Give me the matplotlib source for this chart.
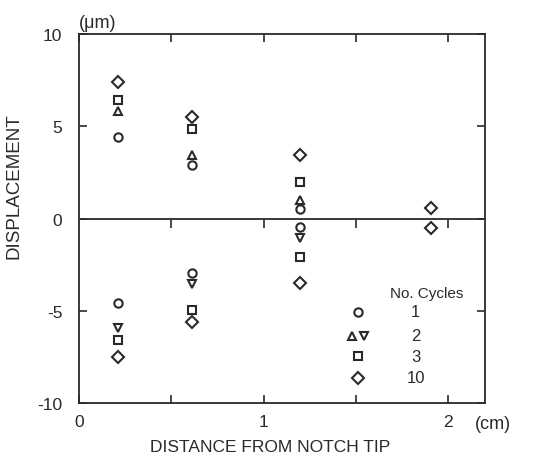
"""
plot.py - crack-tip displacement vs. distance from notch tip
"""
import matplotlib
matplotlib.use('Agg')
import matplotlib.pyplot as plt
import numpy as np

# column positions along the specimen (cm)
x_cols = [0.21, 0.61, 1.20]
x_far = [1.91]

# displacement (um), upper / lower crack face
c1_up = [4.42, 2.88, 0.49]
c1_lo = [-4.56, -2.97, -0.45]
c2_up = [5.85, 3.46, 0.99]
c2_lo = [-5.95, -3.55, -1.04]
c3_up = [6.45, 4.83, 1.98]
c3_lo = [-6.58, -4.95, -2.07]
c10_up = [7.42, 5.50, 3.42, 0.58]
c10_lo = [-7.53, -5.62, -3.51, -0.54]

legend_title = 'No. Cycles'
legend_labels = ['1', '2', '3', '10']

INK = '#2a2a2a'
plt.rcParams['font.family'] = ['Liberation Sans', 'DejaVu Sans']
plt.rcParams['font.size'] = 12.5

fig = plt.figure(figsize=(5.38, 4.60), dpi=100)
ax = fig.add_axes([0.1468, 0.1217, 0.7547, 0.8022])

mk = dict(linestyle='none', markerfacecolor='none', markeredgecolor=INK,
          markeredgewidth=1.5, markersize=6, clip_on=False)

x10 = x_cols + x_far
ax.plot(x_cols, c1_up, 'o', **mk)
ax.plot(x_cols, c1_lo, 'o', **mk)
ax.plot(x_cols, c2_up, '^', **mk)
ax.plot(x_cols, c2_lo, 'v', **mk)
ax.plot(x_cols, c3_up, 's', **mk)
ax.plot(x_cols, c3_lo, 's', **mk)
ax.plot(x10, c10_up, 'D', **mk)
ax.plot(x10, c10_lo, 'D', **mk)

# zero line with downward ticks
ax.axhline(0, color=INK, linewidth=1.3)
xt = np.arange(0.5, 2.01, 0.5)
ax.vlines(xt, 0, -0.5, color=INK, linewidth=1.2)

ax.set_xlim(0, 2.2)
ax.set_ylim(-10, 10)
ax.set_xticks(np.arange(0, 2.01, 0.5))
ax.set_xticklabels(['0', '', '1', '', '2'])
ax.set_yticks([-10, -5, 0, 5, 10])
ax.set_yticklabels(['-10', '-5', '0', '5', '10'])
ax.tick_params(direction='in', length=6, width=1.2, color=INK,
               top=True, right=True, labelcolor=INK)
ax.tick_params(axis='y', pad=12)
ax.tick_params(axis='x', pad=8)
for s in ax.spines.values():
    s.set_linewidth(1.3)
    s.set_color(INK)

ax.set_xlabel('DISTANCE FROM NOTCH TIP', color=INK, fontsize=12.5)
ax.xaxis.set_label_coords(0.47, -0.098)
ax.set_ylabel('DISPLACEMENT', color=INK, fontsize=13.5)
ax.yaxis.set_label_coords(-0.14, 0.59)

ax.text(0.0, 1.008, '(μm)', transform=ax.transAxes, ha='left', va='bottom',
        color=INK, fontsize=13)
ax.text(0.975, -0.055, '(cm)', transform=ax.transAxes, ha='left', va='center',
        color=INK, fontsize=13)

# hand-placed legend
ax.text(0.857, 0.298, legend_title, transform=ax.transAxes, ha='center',
        va='center', color=INK, fontsize=11)
rows = [0.247, 0.182, 0.127, 0.068]
lmk = dict(mk, transform=ax.transAxes)
ax.plot([0.687], [rows[0]], 'o', **lmk)
ax.plot([0.672], [rows[1]], '^', **lmk)
ax.plot([0.702], [rows[1]], 'v', **lmk)
ax.plot([0.687], [rows[2]], 's', **lmk)
ax.plot([0.687], [rows[3]], 'D', **lmk)
for lab, yy in zip(legend_labels, rows):
    ax.text(0.829, yy, lab, transform=ax.transAxes, ha='center', va='center',
            color=INK, fontsize=12)

fig.savefig('out.png', dpi=100)
